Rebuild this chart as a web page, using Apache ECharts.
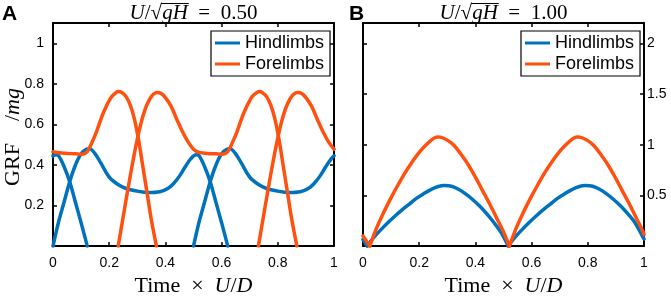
<!DOCTYPE html>
<html><head><meta charset="utf-8">
<script src="https://cdn.jsdelivr.net/npm/echarts@6/dist/echarts.min.js"></script>
<style>html,body{margin:0;padding:0;background:#fff}#c{width:671px;height:302px}</style>
</head><body><div id="c"></div>
<script>
// ---- tick values ----
const xTicks = [0, 0.2, 0.4, 0.6, 0.8, 1];
const yTicksA = [0.2, 0.4, 0.6, 0.8, 1];
const yTicksB = [0.5, 1, 1.5, 2];
const legendNames = ['Hindlimbs', 'Forelimbs'];
const titleValues = ['0.50', '1.00'];

// ---- Panel A (U/sqrt(gH) = 0.50) ----
const hindA1 = [[0,0],[0.02,0.12],[0.04,0.22],[0.06,0.32],[0.08,0.40],[0.10,0.455],[0.12,0.478],[0.13,0.48],[0.15,0.455],[0.17,0.41],[0.20,0.34],[0.23,0.305],[0.26,0.284],[0.30,0.271],[0.34,0.264],[0.38,0.268],[0.41,0.285],[0.43,0.31],[0.45,0.345],[0.47,0.39],[0.49,0.43],[0.51,0.45],[0.52,0.445],[0.54,0.39],[0.56,0.315],[0.58,0.215],[0.60,0.115],[0.622,0]];
const hindA2 = [[0.5,0],[0.52,0.12],[0.54,0.22],[0.56,0.32],[0.58,0.40],[0.60,0.455],[0.62,0.478],[0.63,0.48],[0.65,0.455],[0.67,0.41],[0.70,0.34],[0.73,0.305],[0.76,0.284],[0.80,0.271],[0.84,0.264],[0.88,0.268],[0.91,0.285],[0.93,0.31],[0.95,0.345],[0.97,0.39],[0.99,0.43],[1.0,0.445]];
const hindA3 = [[0,0.445],[0.01,0.45],[0.02,0.445],[0.04,0.39],[0.06,0.315],[0.08,0.215],[0.10,0.115],[0.122,0]];
const foreA1 = [[0.232,0],[0.248,0.13],[0.264,0.26],[0.28,0.385],[0.296,0.5],[0.312,0.6],[0.328,0.675],[0.344,0.725],[0.358,0.75],[0.372,0.757],[0.385,0.752],[0.40,0.732],[0.42,0.69],[0.44,0.627],[0.46,0.566],[0.48,0.515],[0.50,0.478],[0.52,0.462],[0.55,0.457],[0.58,0.455],[0.60,0.453],[0.615,0.458],[0.625,0.472],[0.64,0.515],[0.655,0.565],[0.68,0.66],[0.705,0.73],[0.72,0.752],[0.735,0.762],[0.745,0.757],[0.76,0.737],[0.775,0.695],[0.79,0.625],[0.805,0.52],[0.82,0.39],[0.835,0.26],[0.85,0.13],[0.868,0]];
const foreA2 = [[0.731,0],[0.747,0.13],[0.763,0.26],[0.779,0.385],[0.795,0.5],[0.811,0.6],[0.827,0.675],[0.843,0.725],[0.857,0.75],[0.871,0.757],[0.885,0.752],[0.90,0.732],[0.92,0.69],[0.94,0.627],[0.96,0.566],[0.98,0.515],[1.0,0.478]];
const foreA3 = [[0,0.465],[0.02,0.46],[0.05,0.457],[0.08,0.455],[0.10,0.453],[0.115,0.458],[0.125,0.472],[0.14,0.515],[0.155,0.565],[0.18,0.66],[0.205,0.73],[0.22,0.752],[0.233,0.762],[0.245,0.757],[0.26,0.737],[0.275,0.695],[0.29,0.625],[0.305,0.52],[0.32,0.39],[0.335,0.26],[0.35,0.13],[0.368,0]];

// ---- Panel B (U/sqrt(gH) = 1.00) ----
const hindB0 = [[0,0.065],[0.015,0]];
const hindB1 = [[0.015,0],[0.04,0.09],[0.065,0.165],[0.09,0.235],[0.115,0.3],[0.14,0.36],[0.165,0.415],[0.19,0.47],[0.215,0.515],[0.24,0.555],[0.265,0.585],[0.29,0.597],[0.315,0.59],[0.34,0.56],[0.365,0.515],[0.39,0.46],[0.415,0.395],[0.44,0.32],[0.465,0.235],[0.49,0.14],[0.517,0]];
const hindB2 = [[0.517,0],[0.542,0.09],[0.567,0.165],[0.592,0.235],[0.617,0.3],[0.642,0.36],[0.667,0.415],[0.692,0.47],[0.717,0.515],[0.742,0.555],[0.767,0.585],[0.792,0.597],[0.817,0.59],[0.842,0.56],[0.867,0.515],[0.892,0.46],[0.917,0.395],[0.942,0.32],[0.967,0.235],[0.992,0.11],[1.0,0.07]];
const foreB0 = [[0,0.1],[0.024,0]];
const foreB1 = [[0.024,0],[0.05,0.19],[0.075,0.34],[0.1,0.478],[0.125,0.605],[0.15,0.725],[0.175,0.83],[0.2,0.925],[0.225,1.0],[0.25,1.06],[0.265,1.077],[0.275,1.075],[0.3,1.045],[0.325,0.99],[0.35,0.9],[0.375,0.8],[0.4,0.68],[0.425,0.55],[0.45,0.42],[0.475,0.28],[0.5,0.14],[0.521,0]];
const foreB2 = [[0.521,0],[0.547,0.19],[0.572,0.34],[0.597,0.478],[0.622,0.605],[0.647,0.725],[0.672,0.83],[0.697,0.925],[0.722,1.0],[0.747,1.06],[0.762,1.077],[0.772,1.075],[0.797,1.045],[0.822,0.99],[0.847,0.9],[0.872,0.8],[0.897,0.68],[0.922,0.55],[0.947,0.42],[0.972,0.28],[0.997,0.14],[1.0,0.115]];

const BLUE = '#0072BD', ORANGE = '#FF5010', INK = '#000';
const SANS = 'Liberation Sans', SERIF = 'Liberation Serif';

function line(name, data, gi, color) {
  return { type: 'line', name, data, xAxisIndex: gi * 2, yAxisIndex: gi * 2,
    showSymbol: false, smooth: 0.35, lineStyle: { color, width: 3.5, join: 'round', cap: 'round' }, itemStyle: { color },
    emphasis: { disabled: true }, animation: false };
}
function xAx(gi, pos, labels) {
  return { type: 'value', gridIndex: gi, position: pos, min: 0, max: 1, interval: 0.2,
    axisLine: { show: true, onZero: false, lineStyle: { color: INK, width: 2 } },
    axisTick: { show: true, inside: true, length: 4, customValues: xTicks, lineStyle: { color: INK, width: 1.5 } },
    axisLabel: { show: labels, customValues: xTicks, margin: 10, fontSize: 14, color: INK, fontFamily: SANS },
    splitLine: { show: false } };
}
function yAx(gi, pos, max, ticks, labels, margin) {
  return { type: 'value', gridIndex: gi, position: pos, min: 0, max,
    axisLine: { show: true, onZero: false, lineStyle: { color: INK, width: 2 } },
    axisTick: { show: true, inside: true, length: 4, customValues: ticks, lineStyle: { color: INK, width: 1.5 } },
    axisLabel: { show: labels, customValues: ticks, margin, fontSize: 14, color: INK, fontFamily: SANS },
    splitLine: { show: false } };
}
const richL = { r: { fontFamily: SERIF, fontSize: 22, color: INK }, i: { fontFamily: SERIF, fontStyle: 'italic', fontSize: 22, color: INK } };
const xName = { name: '{r|Time  ×  }{i|U}{r|/}{i|D}', nameLocation: 'middle', nameGap: 23, nameTextStyle: { rich: richL } };
const xA = Object.assign(xAx(0, 'bottom', true), xName);
const xB = Object.assign(xAx(1, 'bottom', true), xName);

function legend(left) {
  return { data: legendNames, orient: 'vertical', left, top: 31, icon: 'rect', itemWidth: 25, itemHeight: 3,
    itemGap: 3, padding: [3, 6, 3, 4], borderColor: INK, borderWidth: 1.2, backgroundColor: '#fff',
    textStyle: { fontFamily: SANS, fontSize: 18, color: INK }, selectedMode: false };
}

// math-style panel title built from measured pieces, with a radical bar over gH
const measure = document.createElement('canvas').getContext('2d');
function mathTitle(cx, cy, value) {
  const fs = 21;
  const parts = [
    { t: 'U', it: true }, { t: '/', it: false }, { t: '√', it: false },
    { t: 'gH', it: true, bar: true }, { t: '  =  ' + value, it: false }
  ];
  let total = 0;
  parts.forEach(p => {
    measure.font = (p.it ? 'italic ' : '') + fs + 'px "' + SERIF + '"';
    p.w = measure.measureText(p.t).width; total += p.w;
  });
  let x = cx - total / 2;
  const els = [];
  parts.forEach(p => {
    els.push({ type: 'text', x, y: cy, style: { text: p.t, fontFamily: SERIF, fontStyle: p.it ? 'italic' : 'normal',
      fontSize: fs, fill: INK, align: 'left', verticalAlign: 'middle' } });
    if (p.bar) els.push({ type: 'line', shape: { x1: x - 1, y1: cy - 9.5, x2: x + p.w + 1, y2: cy - 9.5 }, style: { stroke: INK, lineWidth: 1 } });
    x += p.w;
  });
  return els;
}

const option = {
  backgroundColor: '#fff', animation: false,
  grid: [
    { left: 53, top: 23, width: 281, height: 230 },
    { left: 363, top: 23, width: 281, height: 230 }
  ],
  xAxis: [xA, xAx(0, 'top', false), xB, xAx(1, 'top', false)],
  yAxis: [
    yAx(0, 'left', 1.1, yTicksA, true, 9), yAx(0, 'right', 1.1, yTicksA, false, 4),
    yAx(1, 'right', 2.2, yTicksB, true, 3), yAx(1, 'left', 2.2, yTicksB, false, 4)
  ],
  legend: [legend(211), legend(521)],
  series: [
    line('Hindlimbs', hindA1, 0, BLUE), line('Hindlimbs', hindA2, 0, BLUE), line('Hindlimbs', hindA3, 0, BLUE),
    line('Forelimbs', foreA1, 0, ORANGE), line('Forelimbs', foreA2, 0, ORANGE), line('Forelimbs', foreA3, 0, ORANGE),
    line('Hindlimbs', hindB0, 1, BLUE), line('Hindlimbs', hindB1, 1, BLUE), line('Hindlimbs', hindB2, 1, BLUE),
    line('Forelimbs', foreB0, 1, ORANGE), line('Forelimbs', foreB1, 1, ORANGE), line('Forelimbs', foreB2, 1, ORANGE)
  ],
  graphic: [
    { type: 'text', left: 2, top: 4, style: { text: 'A', fontFamily: SANS, fontWeight: 'bold', fontSize: 21, fill: INK } },
    { type: 'text', left: 349, top: 4, style: { text: 'B', fontFamily: SANS, fontWeight: 'bold', fontSize: 21, fill: INK } },
    ...mathTitle(193.5, 13, titleValues[0]),
    ...mathTitle(503.5, 13, titleValues[1]),
    { type: 'text', x: 13, y: 137, rotation: Math.PI / 2, style: { text: '{r|GRF    /}{i|mg}', rich: richL, align: 'center', verticalAlign: 'middle' } }
  ]
};
echarts.init(document.getElementById('c')).setOption(option);
</script></body></html>
